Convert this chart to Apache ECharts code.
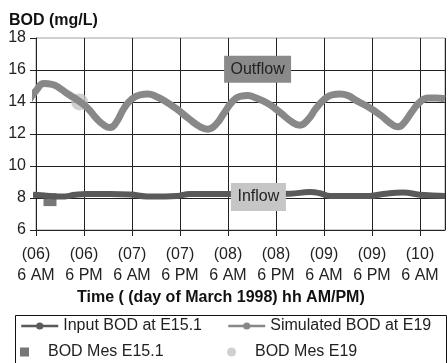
<!DOCTYPE html>
<html>
<head>
<meta charset="utf-8">
<script src="https://cdn.jsdelivr.net/npm/echarts@6/dist/echarts.min.js"></script>
<style>
html,body{margin:0;padding:0;background:#fff}
#chart{width:448px;height:363px}
</style>
</head>
<body>
<div id="chart"></div>
<script>
// tick labels (one every 12 h starting 6 AM March 6)
var dayLabels = ['(06)','(06)','(07)','(07)','(08)','(08)','(09)','(09)','(10)'];
var timeLabels = ['6 AM','6 PM','6 AM','6 PM','6 AM','6 PM','6 AM','6 PM','6 AM'];

// simulated outflow BOD at E19 (hours since 6 AM on the 6th)
var outflowHours = [-2,0,2,4,6,8,10.75,13,15,17,18.5,20,22,24,26,28,30,32,35,38,41,43,45,47,49,51,53,55,58,61,64,66,68,70,72,74,76,78,80,83,86,89,90.5,92,94,96,98,100,102.25];
var outflowBod = [14.0,14.7,15.15,15.1,14.85,14.5,14.06,13.6,13.0,12.55,12.4,12.7,13.6,14.2,14.45,14.5,14.35,14.1,13.6,13.0,12.45,12.3,12.6,13.3,14.0,14.35,14.4,14.25,13.9,13.35,12.75,12.55,12.9,13.6,14.15,14.45,14.5,14.4,14.1,13.7,13.2,12.6,12.45,12.7,13.4,14.0,14.25,14.25,14.2];

// input BOD at E15.1
var inflowHours = [-0.75,2.25,4.75,7.25,9.75,12.75,18.5,23.5,27.75,32.25,35.25,38.5,48.5,56,63.5,68.5,71,73.5,78.5,83.5,86.75,91.75,96,102.25];
var inflowBod = [8.2,8.15,8.1,8.1,8.2,8.25,8.25,8.22,8.1,8.1,8.12,8.25,8.25,8.25,8.27,8.37,8.3,8.13,8.12,8.13,8.25,8.35,8.2,8.12];

// measured points
var mesE151Hours = [3.5];
var mesE151Bod = [7.9];
var mesE19Hours = [10.9];
var mesE19Bod = [14.0];

function pairs(xs, ys) {
    var out = [];
    for (var i = 0; i < xs.length; i++) {
        out.push([xs[i], ys[i]]);
    }
    return out;
}

var font = "'Liberation Sans', Arial, sans-serif";
var chart = echarts.init(document.getElementById('chart'));

function legendItem(name, left, top, icon) {
    var leg = {
        data: [name],
        left: left, top: top, padding: 0,
        itemWidth: 37, itemHeight: 9,
        symbolKeepAspect: true,
        textStyle: { fontSize: 16, color: '#222', fontFamily: font },
        lineStyle: { width: 2.5 }
    };
    if (icon) leg.icon = icon;
    return leg;
}

var option = {
    animation: false,
    textStyle: { fontFamily: font },
    title: [
        { text: 'BOD (mg/L)', left: 9, top: 13, padding: 0, textStyle: { fontSize: 16, fontWeight: 'bold', color: '#111', fontFamily: font } },
        { text: 'Time ( (day of March 1998) hh AM/PM)', left: 77, top: 290, padding: 0, textStyle: { fontSize: 16, fontWeight: 'bold', color: '#111', fontFamily: font } }
    ],
    grid: {
        left: 36, right: 3, top: 38, bottom: 133,
        show: true, borderColor: '#a0a0a0', borderWidth: 1, backgroundColor: '#fff'
    },
    legend: [
        legendItem('Input BOD at E15.1', 20, 318),
        legendItem('Simulated BOD at E19', 227, 318),
        legendItem('BOD Mes E15.1', 20, 344, 'path://M0 0H10V10H0Z'),
        legendItem('BOD Mes E19', 227, 344)
    ],
    graphic: [
        { type: 'rect', shape: { x: 15.5, y: 315.5, width: 431, height: 60 }, style: { fill: 'none', stroke: '#111', lineWidth: 1 } }
    ],
    xAxis: {
        type: 'value', min: 0, max: 102.25, interval: 12,
        axisLine: { lineStyle: { color: '#222', width: 1 } },
        axisTick: { show: true, length: 6, lineStyle: { color: '#222' } },
        splitLine: { show: true, lineStyle: { color: '#222', width: 1 } },
        axisLabel: {
            fontSize: 16, color: '#222', lineHeight: 21, margin: 14,
            formatter: function (v) {
                var i = Math.round(v / 12);
                return dayLabels[i] + '\n' + timeLabels[i];
            }
        }
    },
    yAxis: {
        type: 'value', min: 6, max: 18, interval: 2,
        axisLine: { show: true, lineStyle: { color: '#222', width: 1 } },
        axisTick: { show: true, length: 6, lineStyle: { color: '#222' } },
        splitLine: { show: true, showMaxLine: false, lineStyle: { color: '#222', width: 1 } },
        axisLabel: { fontSize: 16, color: '#222', margin: 10 }
    },
    series: [
        {
            name: 'Input BOD at E15.1',
            type: 'line',
            data: pairs(inflowHours, inflowBod),
            smooth: true,
            clip: false,
            symbol: 'circle', symbolSize: 5, showSymbol: false,
            lineStyle: { color: '#5a5a5a', width: 6 },
            itemStyle: { color: '#5a5a5a' },
            markPoint: {
                silent: true,
                symbol: 'rect', symbolSize: [55, 28], symbolKeepAspect: false,
                itemStyle: { color: '#c6c6c6' },
                label: { show: true, position: 'inside', formatter: 'Inflow', fontSize: 16, color: '#222' },
                data: [{ coord: [55.6, 8.06] }]
            }
        },
        {
            name: 'Simulated BOD at E19',
            type: 'line',
            data: pairs(outflowHours, outflowBod),
            smooth: true,
            clip: false,
            symbol: 'circle', symbolSize: 5, showSymbol: false,
            lineStyle: { color: '#888888', width: 7 },
            itemStyle: { color: '#888888' },
            markPoint: {
                silent: true,
                symbol: 'rect', symbolSize: [67, 27], symbolKeepAspect: false,
                itemStyle: { color: '#8a8a8a' },
                label: { show: true, position: 'inside', formatter: 'Outflow', fontSize: 16, color: '#222' },
                data: [{ coord: [55.4, 16.05] }]
            }
        },
        {
            name: 'BOD Mes E15.1',
            type: 'scatter',
            data: pairs(mesE151Hours, mesE151Bod),
            symbol: 'rect', symbolSize: 13,
            itemStyle: { color: '#555555' }
        },
        {
            name: 'BOD Mes E19',
            type: 'scatter',
            data: pairs(mesE19Hours, mesE19Bod),
            symbol: 'circle', symbolSize: 17,
            itemStyle: { color: '#c4c4c4' }
        }
    ]
};

chart.setOption(option);
</script>
</body>
</html>
